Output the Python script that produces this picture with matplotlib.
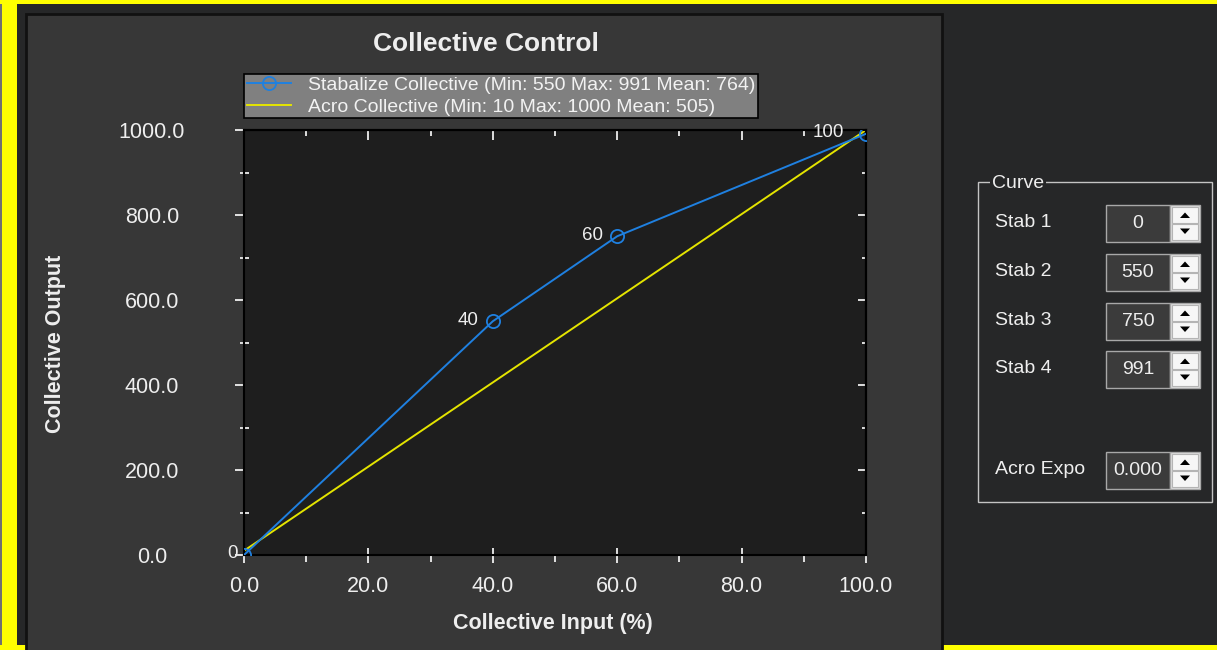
import matplotlib
matplotlib.use('Agg')
import matplotlib.pyplot as plt
from matplotlib.patches import Rectangle, Polygon
from matplotlib.ticker import MultipleLocator, FormatStrFormatter, NullFormatter

plt.rcParams['font.family'] = ['Liberation Sans', 'DejaVu Sans']

# ---------------- data ----------------
stab_x = [0, 40, 60, 100]
stab_y = [0, 550, 750, 991]
acro_x = [0, 100]
acro_y = [10, 1000]
stab_label = "Stabalize Collective (Min: 550 Max: 991 Mean: 764)"
acro_label = "Acro Collective (Min: 10 Max: 1000 Mean: 505)"
title_text = "Collective Control"
xlabel_text = "Collective Input (%)"
ylabel_text = "Collective Output"
group_title = "Curve"
spin_labels = ["Stab 1", "Stab 2", "Stab 3", "Stab 4", "Acro Expo"]
spin_values = ["0", "550", "750", "991", "0.000"]

# ---------------- style ----------------
W, H = 1217, 650
PX = 0.72  # points per pixel at dpi 100
BLUE = '#1f80e0'
YEL = '#e4e400'
TXT = '#eeeeee'
label_dx_px = [-6, -14, -14, -22]

fig = plt.figure(figsize=(W / 100, H / 100), dpi=100, facecolor='#262728')
bg = fig.add_axes([0, 0, 1, 1])
bg.set_xlim(0, W)
bg.set_ylim(H, 0)
bg.axis('off')

# window frame
bg.add_patch(Rectangle((0, 0), 2, H, facecolor='#707070', edgecolor='none'))
bg.add_patch(Rectangle((2, 0), 15, H, facecolor='#ffff00', edgecolor='none'))
bg.add_patch(Rectangle((0, 0), W, 4, facecolor='#ffff00', edgecolor='none'))
bg.add_patch(Rectangle((0, 645), W, 5, facecolor='#ffff00', edgecolor='none'))

# chart panel
bg.add_patch(Rectangle((26, 14), 916, 660, facecolor='#373737', edgecolor='#111111', lw=2))

# titles
bg.text(486, 44, title_text, ha='center', va='center', fontsize=19, fontweight='bold', color=TXT)
bg.text(553, 623, xlabel_text, ha='center', va='center', fontsize=15.5, fontweight='bold', color=TXT)
bg.text(55, 344, ylabel_text, ha='center', va='center', rotation=90, fontsize=15.5, fontweight='bold', color=TXT)

# group box
bg.add_patch(Rectangle((978, 182), 234, 320, fill=False, edgecolor='#c4c4c4', lw=1))
bg.text(992, 183, group_title, ha='left', va='center', fontsize=14, color=TXT,
        bbox=dict(facecolor='#262728', edgecolor='none', pad=1.5))

spin_tops = [205, 254, 303, 351, 452]
for lab, val, top in zip(spin_labels, spin_values, spin_tops):
    h = 37
    bg.text(995, top + h / 2 - 1, lab, ha='left', va='center', fontsize=14, color=TXT)
    bg.add_patch(Rectangle((1106, top), 64, h, facecolor='#3b3b3b', edgecolor='#a8a8a8', lw=1))
    bg.add_patch(Rectangle((1170, top), 30, h, facecolor='#e2e2e2', edgecolor='#a8a8a8', lw=1))
    bg.add_patch(Rectangle((1172, top + 2), 26, 16, facecolor='#f6f6f6', edgecolor='#b4b4b4', lw=0.8))
    bg.add_patch(Rectangle((1172, top + 19), 26, 16, facecolor='#f6f6f6', edgecolor='#b4b4b4', lw=0.8))
    cx = 1185
    bg.add_patch(Polygon([(cx - 5, top + 13), (cx + 5, top + 13), (cx, top + 7.5)],
                         closed=True, facecolor='black', edgecolor='none'))
    bg.add_patch(Polygon([(cx - 5, top + 23.5), (cx + 5, top + 23.5), (cx, top + 29)],
                         closed=True, facecolor='black', edgecolor='none'))
    bg.text(1138, top + h / 2, val, ha='center', va='center', fontsize=14, color=TXT)

# ---------------- plot ----------------
ax = fig.add_axes([244 / W, (H - 555) / H, 622 / W, 425 / H])
ax.set_facecolor('#1e1e1e')
ax.set_xlim(0, 100)
ax.set_ylim(0, 1000)
for s in ax.spines.values():
    s.set_color('black')
    s.set_linewidth(1.5)

l1, = ax.plot(stab_x, stab_y, color=BLUE, lw=1.4, marker='o', markersize=9.5,
              markerfacecolor='none', markeredgecolor=BLUE, markeredgewidth=1.3,
              label=stab_label, zorder=3)
l2, = ax.plot(acro_x, acro_y, color=YEL, lw=1.4, label=acro_label, zorder=2)

for (x, y, dx) in zip(stab_x, stab_y, label_dx_px):
    ax.annotate(str(x), (x, y), xytext=(dx * PX, 1 * PX), textcoords='offset points',
                ha='right', va='center', color=TXT, fontsize=13.5, annotation_clip=False)

ax.xaxis.set_major_locator(MultipleLocator(20))
ax.xaxis.set_minor_locator(MultipleLocator(10))
ax.yaxis.set_major_locator(MultipleLocator(200))
ax.yaxis.set_minor_locator(MultipleLocator(100))
ax.xaxis.set_major_formatter(FormatStrFormatter('%.1f'))
ax.yaxis.set_major_formatter(FormatStrFormatter('%.1f'))

ax.tick_params(axis='x', which='major', direction='inout', length=15 * PX, width=1.2,
               color='white', labelcolor=TXT, labelsize=15.5, pad=10)
ax.tick_params(axis='x', which='minor', direction='out', length=7 * PX, width=1.2, color='white')
ax.tick_params(axis='y', which='major', direction='out', length=9 * PX, width=1.2,
               color='white', labelcolor=TXT, labelsize=15.5, pad=(244 - 9 - 152) * PX)
ax.tick_params(axis='y', which='minor', direction='inout', length=9 * PX, width=1.2, color='white')
for t in ax.get_yticklabels():
    t.set_horizontalalignment('center')

secx = ax.secondary_xaxis('top')
secx.xaxis.set_major_locator(MultipleLocator(20))
secx.xaxis.set_minor_locator(MultipleLocator(10))
secx.xaxis.set_major_formatter(NullFormatter())
secx.tick_params(which='major', direction='in', length=10 * PX, width=1.2, color='white')
secx.tick_params(which='minor', direction='in', length=6 * PX, width=1.2, color='white')
secx.spines['top'].set_color('black')
secx.spines['top'].set_linewidth(1.5)

secy = ax.secondary_yaxis('right')
secy.yaxis.set_major_locator(MultipleLocator(200))
secy.yaxis.set_minor_locator(MultipleLocator(100))
secy.yaxis.set_major_formatter(NullFormatter())
secy.tick_params(which='major', direction='in', length=8 * PX, width=1.2, color='white')
secy.tick_params(which='minor', direction='in', length=4 * PX, width=1.2, color='white')
secy.spines['right'].set_color('black')
secy.spines['right'].set_linewidth(1.5)

leg = ax.legend(handles=[l1, l2], loc='upper left', bbox_to_anchor=(244 / W, 1 - 74 / H),
                bbox_transform=fig.transFigure, borderaxespad=0, frameon=True, fancybox=False,
                facecolor='#808080', edgecolor='black', framealpha=1, fontsize=14,
                labelcolor='#f2f2f2', handlelength=2.3, handletextpad=0.85,
                borderpad=0.13, labelspacing=0.21)
leg.get_frame().set_linewidth(1.2)

fig.savefig('out.png', dpi=100, facecolor=fig.get_facecolor())
